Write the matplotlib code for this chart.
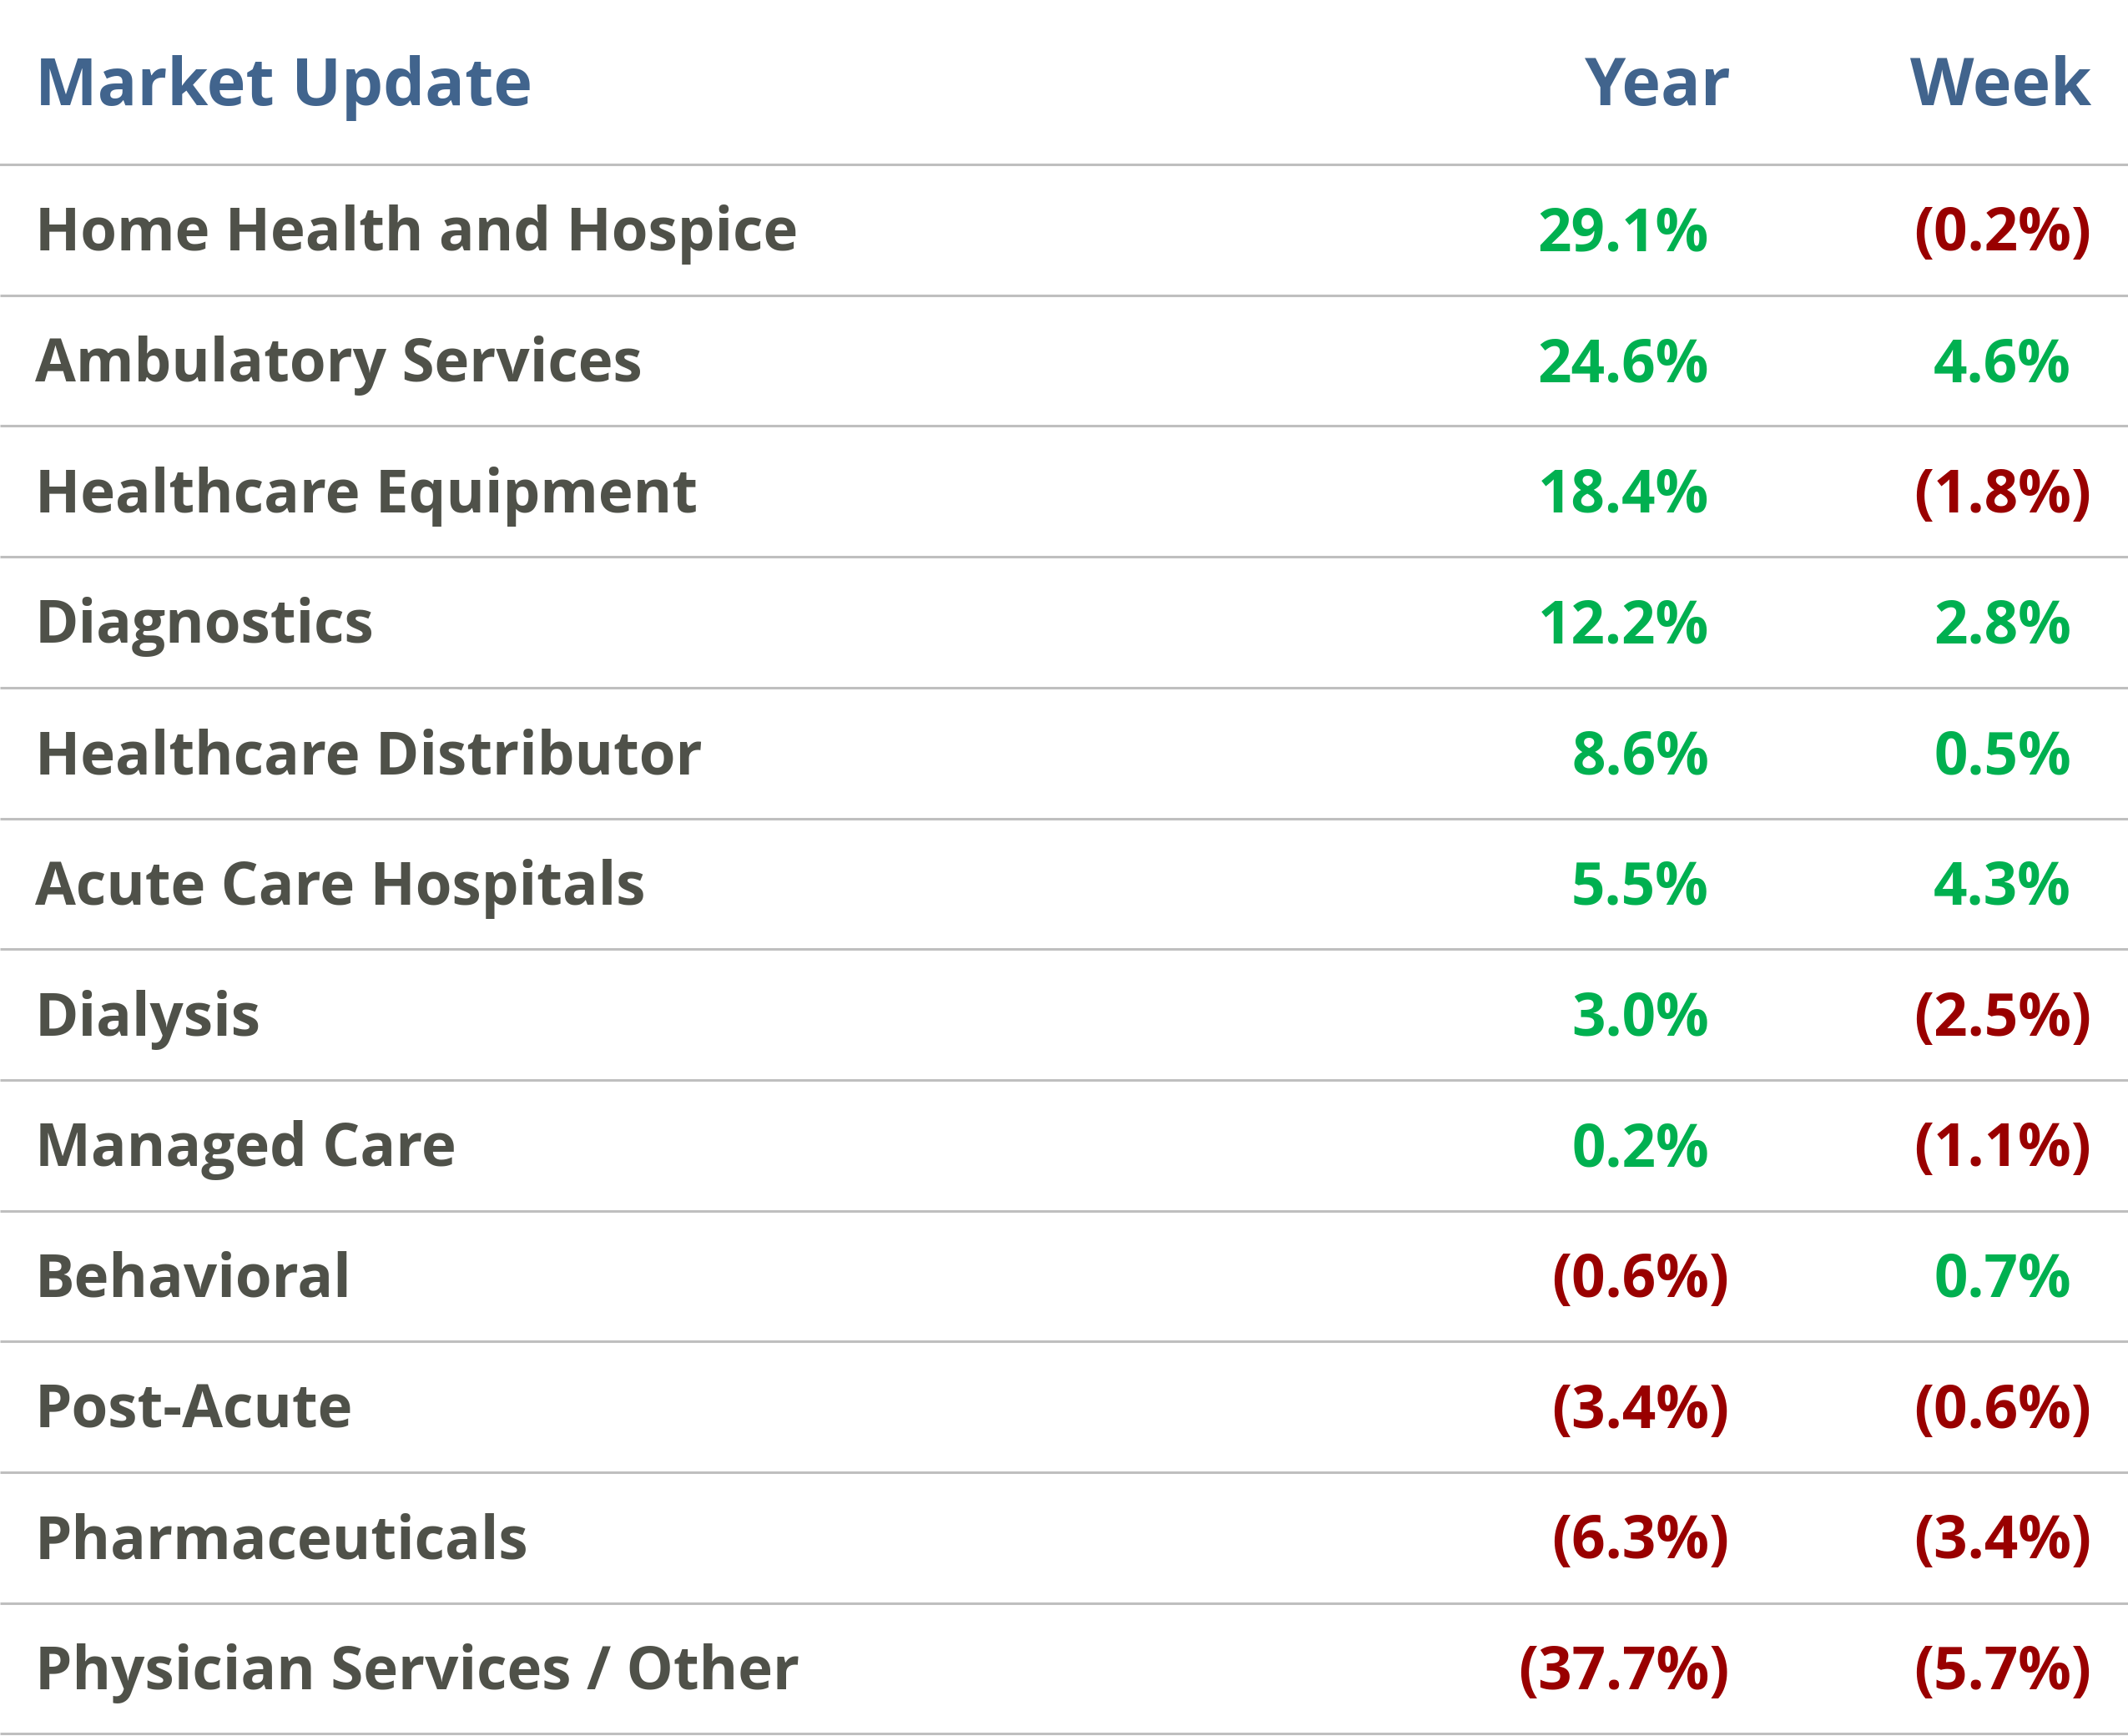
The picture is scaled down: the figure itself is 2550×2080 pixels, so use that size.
import matplotlib
matplotlib.use("Agg")
import matplotlib.pyplot as plt

# ---- data ----
title = "Market Update"
col_headers = ["Year", "Week"]
categories = [
    "Home Health and Hospice",
    "Ambulatory Services",
    "Healthcare Equipment",
    "Diagnostics",
    "Healthcare Distributor",
    "Acute Care Hospitals",
    "Dialysis",
    "Managed Care",
    "Behavioral",
    "Post-Acute",
    "Pharmaceuticals",
    "Physician Services / Other",
]
year_values = [29.1, 24.6, 18.4, 12.2, 8.6, 5.5, 3.0, 0.2, -0.6, -3.4, -6.3, -37.7]
week_values = [-0.2, 4.6, -1.8, 2.8, 0.5, 4.3, -2.5, -1.1, 0.7, -0.6, -3.4, -5.7]

# ---- style ----
W, H, DPI = 2550, 2080, 100
BLUE = "#41648D"
GRAY_TXT = "#4F5149"
GREEN = "#00B050"
RED = "#990000"
LINE = "#BFBFBF"
FONT = "Open Sans"

fig = plt.figure(figsize=(W / DPI, H / DPI), dpi=DPI)
ax = fig.add_axes([0, 0, 1, 1])
ax.set_xlim(0, W)
ax.set_ylim(H, 0)
ax.axis("off")

header_line = 197
row_h = 156.7
label_x = 42
col_paren_x = [2072, 2506]   # right edge of ')'
hdr_right_x = [2075, 2506]

hdr_size = 57
body_size = 51

ax.text(label_x, 126, title, color=BLUE, fontsize=hdr_size, fontweight="bold",
        family=FONT, ha="left", va="baseline")
for hx, h in zip(hdr_right_x, col_headers):
    ax.text(hx, 126, h, color=BLUE, fontsize=hdr_size, fontweight="bold",
            family=FONT, ha="right", va="baseline")

# measure width of ')' in data units
renderer = fig.canvas.get_renderer()
t = ax.text(0, 0, ")", fontsize=body_size, fontweight="bold", family=FONT)
bb = t.get_window_extent(renderer=renderer)
paren_w = bb.width * (W / fig.bbox.width)
t.remove()

def fmt(v):
    return f"({abs(v):.1f}%)" if v < 0 else f"{v:.1f}%"

ax.axhline(header_line, color=LINE, lw=2.2)
for i, cat in enumerate(categories):
    top = header_line + i * row_h
    bottom = top + row_h
    base = top + row_h / 2 + 25
    ax.text(label_x, base, cat, color=GRAY_TXT, fontsize=body_size,
            fontweight="bold", family=FONT, ha="left", va="baseline")
    for cx, v in zip(col_paren_x, (year_values[i], week_values[i])):
        x = cx if v < 0 else cx - paren_w
        ax.text(x, base, fmt(v), color=(RED if v < 0 else GREEN),
                fontsize=body_size, fontweight="bold", family=FONT,
                ha="right", va="baseline")
    ax.plot([0, W], [bottom, bottom], color=LINE, lw=2.2, solid_capstyle="butt")

fig.savefig("out.png", dpi=DPI)
